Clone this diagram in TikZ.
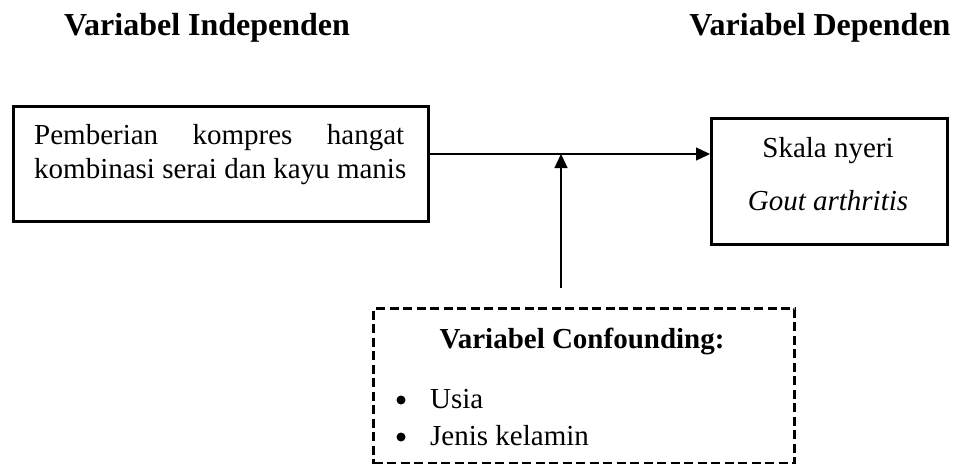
\documentclass[tikz,border=0pt]{standalone}
\usepackage{fontspec}
\setmainfont{Liberation Serif}
\usetikzlibrary{arrows.meta}
\tikzset{
  solidbox/.style={draw, line width=3pt, rectangle, inner sep=0pt},
  dashbox/.style={draw, line width=3pt, rectangle, inner sep=0pt, dash pattern=on 9pt off 4.5pt},
  conn/.style={line width=1.3pt, -{Triangle[length=14pt,width=13pt]}},
  bodytext/.style={inner sep=0pt, font=\fontsize{29}{34}\selectfont},
  bulletdot/.style={circle, fill=black, inner sep=0pt, minimum size=9pt},
  titletext/.style={inner sep=0pt, font=\fontsize{32}{38}\selectfont\bfseries},
}
\begin{document}
\begin{tikzpicture}[x=1pt,y=-1pt]
\useasboundingbox (0,0) rectangle (957,463);
% titles
\node[titletext, anchor=base] (tind) at (207,35) {Variabel Independen};
\node[titletext, anchor=base] (tdep) at (820,35) {Variabel Dependen};
% boxes
\node[solidbox, anchor=north west, minimum width=415pt, minimum height=115pt] (indep) at (12,105) {};
\node[solidbox, anchor=north west, minimum width=236pt, minimum height=126pt] (dep) at (710,117) {};
\node[dashbox, anchor=north west, minimum width=421pt, minimum height=155pt] (conf) at (372,307) {};
% texts in left box
\node[bodytext, anchor=base west] (il1) at (34,144) {\hbox to 370pt{Pemberian\hfill kompres\hfill hangat}};
\node[bodytext, anchor=base west] (il2) at (34,178) {kombinasi serai dan kayu manis};
% texts in right box
\node[bodytext, anchor=base] (dl1) at (828,157) {Skala nyeri};
\node[bodytext, anchor=base] (dl2) at (828,210) {\itshape Gout arthritis};
% texts in confounding box
\node[bodytext, anchor=base, font=\fontsize{29}{34}\selectfont\bfseries] (ct) at (582,348) {Variabel Confounding:};
\node[bulletdot] (b1) at (401,400) {};
\node[bodytext, anchor=base west] (c1) at (430,408) {Usia};
\node[bulletdot] (b2) at (401,437) {};
\node[bodytext, anchor=base west] (c2) at (430,445) {Jenis kelamin};
% connectors
\coordinate (junction) at (561,154);
\coordinate (cstart) at (561,288);
\draw[conn] (indep.east |- junction) -- (dep.west |- junction);
\draw[conn] (cstart) -- (junction);
\end{tikzpicture}
\end{document}
